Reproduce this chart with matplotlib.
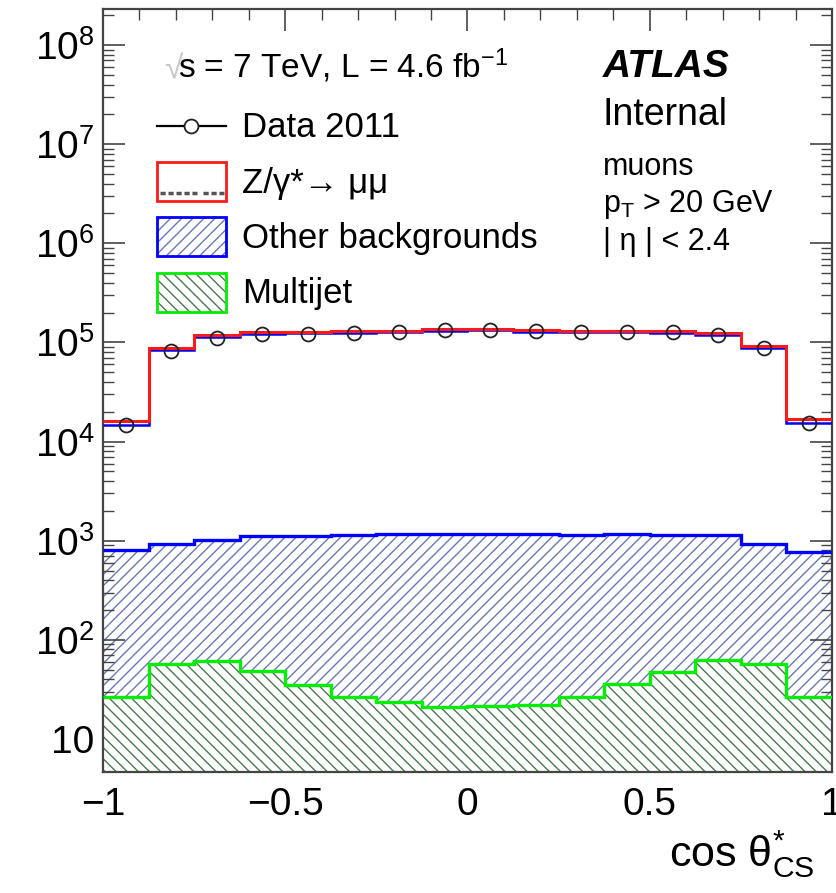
import numpy as np
import matplotlib
matplotlib.use("Agg")
import matplotlib.pyplot as plt
from matplotlib.patches import Rectangle
from matplotlib.lines import Line2D
from matplotlib.ticker import MultipleLocator, LogLocator, FuncFormatter, NullFormatter

# ---------------- data ----------------
bin_edges = [-1.0, -0.875, -0.75, -0.625, -0.5, -0.375, -0.25, -0.125, 0.0,
             0.125, 0.25, 0.375, 0.5, 0.625, 0.75, 0.875, 1.0]
data_2011 = [14800, 82200, 112000, 121000, 121000, 124000, 128000, 134000,
             134000, 130000, 129000, 128000, 128000, 120000, 87500, 15300]
zmumu = [15500, 88000, 118000, 125900, 126900, 128900, 130800, 134800,
         135800, 131800, 130900, 129800, 128900, 122900, 92100, 16200]
other_bkg = [772, 870, 962, 1075, 1088, 1114, 1134, 1137,
             1136, 1136, 1105, 1122, 1093, 1069, 870, 749]
multijet = [26.5, 57.5, 60.7, 48.2, 35.3, 26.5, 23.6, 20.9,
            21.7, 22.1, 26.5, 36.1, 47.5, 62.1, 57.5, 26.3]
blue_line = [14800, 84300, 114000, 123000, 124000, 126000, 128000, 132000,
             133000, 129000, 128000, 127000, 126000, 120000, 87500, 15300]
x_ticks = [-1, -0.5, 0, 0.5, 1]
x_ticklabels = ["\u22121", "\u22120.5", "0", "0.5", "1"]

# ---------------- style ----------------
plt.rcParams["font.family"] = ["Liberation Sans", "DejaVu Sans"]
plt.rcParams["mathtext.fontset"] = "custom"
plt.rcParams["mathtext.rm"] = "Liberation Sans"
plt.rcParams["mathtext.it"] = "Liberation Sans:italic"
plt.rcParams["mathtext.bf"] = "Liberation Sans:bold"
plt.rcParams["mathtext.sf"] = "Liberation Sans"
plt.rcParams["hatch.linewidth"] = 1.0

W, H = 837, 893
fig = plt.figure(figsize=(W / 100, H / 100), dpi=100)
ax = fig.add_axes([103 / W, 1 - 772 / H, (832 - 103) / W, (772 - 9) / H])
ax.set_yscale("log")
ax.set_xlim(-1, 1)
ax.set_ylim(4.65, 2.31e8)

edges = np.array(bin_edges)
centers = 0.5 * (edges[:-1] + edges[1:])
mj = np.array(multijet)
bkg_top = mj + np.array(other_bkg)
z_top = bkg_top + np.array(zmumu)

hatch_blue = "#6a78b4"
hatch_green = "#4a7850"

ax.stairs(bkg_top, edges, baseline=1, fill=True, facecolor="white",
          edgecolor=hatch_blue, hatch="///", lw=0, zorder=1)
ax.stairs(mj, edges, baseline=1, fill=True, facecolor="white",
          edgecolor=hatch_green, hatch="\\\\\\", lw=0, zorder=2)
ax.stairs(bkg_top, edges, baseline=None, color="#0000ff", lw=2.4, zorder=3)
ax.stairs(mj, edges, baseline=None, color="#00ee00", lw=2.4, zorder=3)
ax.stairs(blue_line, edges, baseline=None, color="#0000ee", lw=1.8, zorder=3)
ax.stairs(z_top, edges, baseline=None, color="#ff1a1a", lw=2.2, zorder=4)
ax.plot(centers, data_2011, "o", mfc="none", mec="#222222", ms=10, mew=1.3,
        zorder=5)

# ticks
ax.xaxis.set_minor_locator(MultipleLocator(0.1))
ax.set_xticks(x_ticks)
ax.set_xticklabels(x_ticklabels)
ax.yaxis.set_major_locator(LogLocator(base=10, numticks=20))
ax.yaxis.set_minor_locator(LogLocator(base=10, subs=np.arange(2, 10), numticks=20))
ax.yaxis.set_minor_formatter(NullFormatter())


def yfmt(v, pos):
    e = int(round(np.log10(v)))
    if e == 1:
        return "10"
    return r"$10^{%d}$" % e


ax.yaxis.set_major_formatter(FuncFormatter(yfmt))
ax.tick_params(which="both", direction="in", top=True, right=True,
               color="#444444")
ax.tick_params(which="major", length=16, width=1.2, labelsize=28)
ax.tick_params(which="minor", length=8, width=1.0)
ax.tick_params(axis="x", which="major", pad=11)
ax.tick_params(axis="y", which="major", pad=6)
for s in ax.spines.values():
    s.set_linewidth(1.6)
    s.set_color("#444444")


def fx(x):
    return x / W


def fy(y):
    return 1 - y / H


# text annotations
fig.text(fx(164), fy(78), "\u221a", fontsize=24, color="#c8c8c8", va="baseline")
fig.text(fx(178), fy(78), r"s = 7 TeV, L = 4.6 fb$^{\mathregular{-1}}$",
         fontsize=24, va="baseline")
fig.text(fx(603), fy(77), "ATLAS", fontsize=28, fontweight="bold",
         fontstyle="italic", va="baseline")
fig.text(fx(603), fy(125), "Internal", fontsize=27, va="baseline")
fig.text(fx(603), fy(175), "muons", fontsize=22, va="baseline")
fig.text(fx(603), fy(212), r"p$_{\mathregular{T}}$ > 20 GeV", fontsize=22,
         va="baseline")
fig.text(fx(603), fy(250), "| \u03b7 | < 2.4", fontsize=22, va="baseline")

# legend (manual)
leg_x0, leg_x1 = 157, 226
fig.add_artist(Line2D([fx(leg_x0), fx(leg_x1)], [fy(126), fy(126)],
                      transform=fig.transFigure, color="black", lw=1.6))
fig.add_artist(Line2D([fx(191)], [fy(126)], transform=fig.transFigure,
                      marker="o", ms=10, mfc="white", mec="#222222", mew=1.3))
fig.text(fx(242), fy(137), "Data 2011", fontsize=25, va="baseline")

# Z box
fig.add_artist(Rectangle((fx(leg_x0), fy(201)), (leg_x1 - leg_x0) / W, 39 / H,
                         transform=fig.transFigure, facecolor="white",
                         edgecolor="#ff1a1a", lw=2))
for a, b in [(160, 197), (203, 224)]:
    fig.add_artist(Line2D([fx(a), fx(b)], [fy(193), fy(193)],
                          transform=fig.transFigure, color="#555555", lw=2.5,
                          ls=(0, (1.5, 0.8))))
fig.text(fx(242), fy(193), "Z/\u03b3*\u2192 \u03bc\u03bc", fontsize=25,
         va="baseline")

# Other backgrounds box
fig.add_artist(Rectangle((fx(leg_x0), fy(256)), (leg_x1 - leg_x0) / W, 39 / H,
                         transform=fig.transFigure, facecolor="white",
                         edgecolor=hatch_blue, hatch="///", lw=0))
fig.add_artist(Rectangle((fx(leg_x0), fy(256)), (leg_x1 - leg_x0) / W, 39 / H,
                         transform=fig.transFigure, fill=False,
                         edgecolor="#0000ff", lw=2))
fig.text(fx(242), fy(248), "Other backgrounds", fontsize=25, va="baseline")

# Multijet box
fig.add_artist(Rectangle((fx(leg_x0), fy(312)), (leg_x1 - leg_x0) / W, 39 / H,
                         transform=fig.transFigure, facecolor="white",
                         edgecolor=hatch_green, hatch="\\\\\\", lw=0))
fig.add_artist(Rectangle((fx(leg_x0), fy(312)), (leg_x1 - leg_x0) / W, 39 / H,
                         transform=fig.transFigure, fill=False,
                         edgecolor="#00ee00", lw=2))
fig.text(fx(242), fy(303), "Multijet", fontsize=25, va="baseline")

# x-axis title
fig.text(fx(815), fy(866), r"cos $\mathregular{\theta}^{*}_{\mathregular{CS}}$",
         fontsize=31, ha="right", va="baseline")

fig.savefig("out.png", dpi=100)
